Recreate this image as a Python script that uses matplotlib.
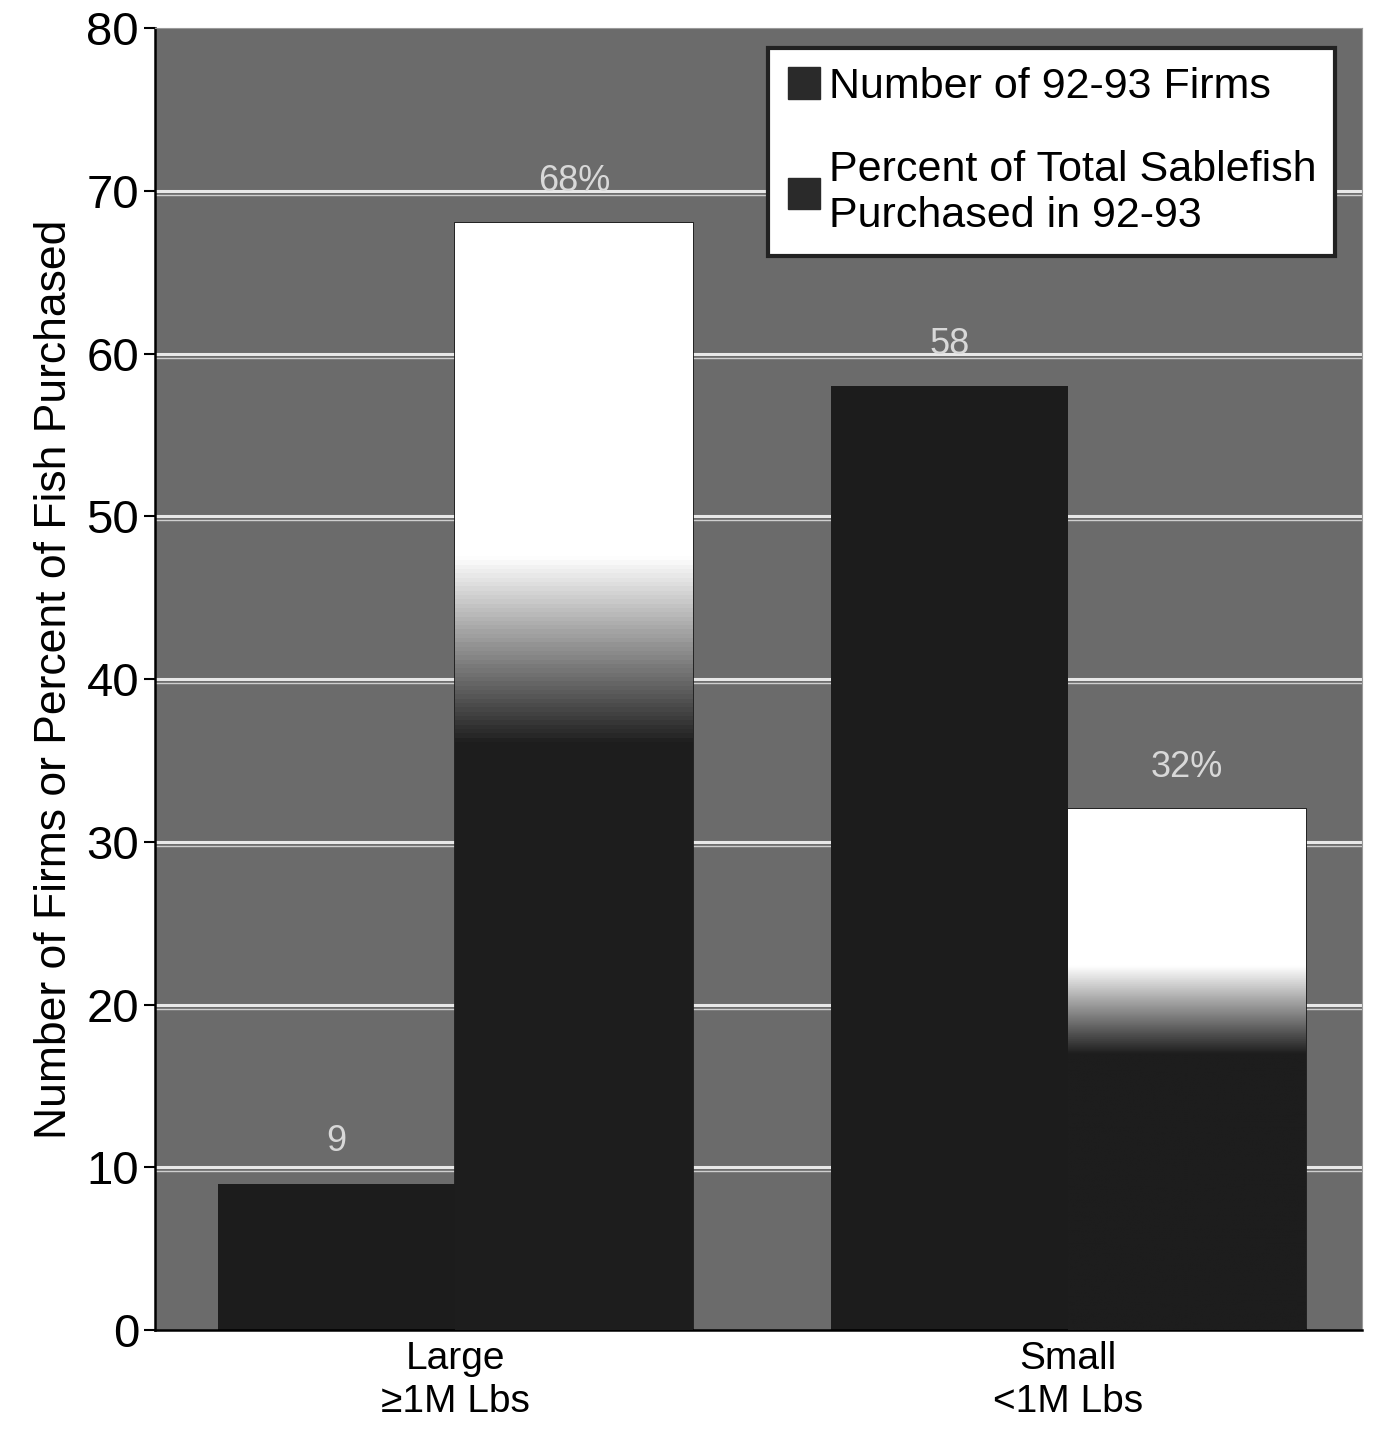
import numpy as np
import matplotlib
matplotlib.use("Agg")
import matplotlib.pyplot as plt
from matplotlib.patches import Patch

plt.rcParams['font.family'] = ['Liberation Sans', 'DejaVu Sans']

# Data
categories = ["Large\n\u22651M Lbs", "Small\n<1M Lbs"]
firms = [9, 58]
pct_purchased = [68, 32]
firm_labels = ["9", "58"]
pct_labels = ["68%", "32%"]

fig = plt.figure(figsize=(13.83, 14.30), dpi=100)
ax = fig.add_axes([155 / 1383, 1 - 1330 / 1430, 1207 / 1383, 1302 / 1430])
ax.set_facecolor("#6b6b6b")

x = np.arange(len(categories))
w = 0.387

# gridlines (white double lines as in the scan)
for yv in range(10, 80, 10):
    ax.axhline(yv, color="#e8e8e8", lw=2.2, zorder=1)
    ax.axhline(yv - 0.25, color="#cfcfcf", lw=1.0, zorder=1)

b1 = ax.bar(x - w / 2, firms, w, color="#1c1c1c", zorder=2)
b2 = ax.bar(x + w / 2, pct_purchased, w, color="white", edgecolor="#1c1c1c",
            lw=2, zorder=2)

# scan fading: percent bars go dark in their lower half
t = np.linspace(0, 1, 256).reshape(-1, 1)
grad = np.clip((t - 0.53) / 0.17, 0, 1)
for rect in b2:
    x0, y0 = rect.get_x(), rect.get_y()
    h = rect.get_height()
    im = ax.imshow(grad, extent=[x0, x0 + rect.get_width(), y0, y0 + h],
                   origin="lower", cmap="gray", aspect="auto",
                   vmin=-0.13, vmax=1.0, zorder=3)
    im.set_clip_path(rect)

for rect, lab in zip(b1, firm_labels):
    ax.text(rect.get_x() + rect.get_width() / 2, rect.get_height() + 1.5, lab,
            ha="center", va="bottom", fontsize=26, color="#d8d8d8", zorder=4)
for rect, lab in zip(b2, pct_labels):
    ax.text(rect.get_x() + rect.get_width() / 2, rect.get_height() + 1.5, lab,
            ha="center", va="bottom", fontsize=26, color="#d8d8d8", zorder=4)

ax.set_xlim(-0.49, 1.48)
ax.set_ylim(0, 80)
ax.set_yticks(range(0, 81, 10))
ax.set_xticks(x)
ax.set_xticklabels(categories, fontsize=28, linespacing=1.25)
ax.tick_params(axis="y", labelsize=34, length=8, width=1.5)
ax.tick_params(axis="x", length=0, pad=8)
ax.set_ylabel("Number of Firms or Percent of Fish Purchased", fontsize=32, labelpad=8)

for side in ["top", "right"]:
    ax.spines[side].set_color("#9a9a9a")
for side in ["left", "bottom"]:
    ax.spines[side].set_color("black")
    ax.spines[side].set_linewidth(1.8)

handles = [Patch(facecolor="#2a2a2a", edgecolor="#2a2a2a"),
           Patch(facecolor="#2a2a2a", edgecolor="#2a2a2a")]
leg = ax.legend(handles, ["Number of 92-93 Firms",
                          "Percent of Total Sablefish\nPurchased in 92-93"],
                loc="upper right", bbox_to_anchor=(0.978, 0.985),
                fontsize=31, frameon=True, fancybox=False, framealpha=1,
                handlelength=0.75, handleheight=0.75, handletextpad=0.2,
                labelspacing=1.0, borderpad=0.45, borderaxespad=0)
leg.get_frame().set_edgecolor("#222222")
leg.get_frame().set_linewidth(3)
leg.set_zorder(5)

plt.savefig("out.png", dpi=100)
